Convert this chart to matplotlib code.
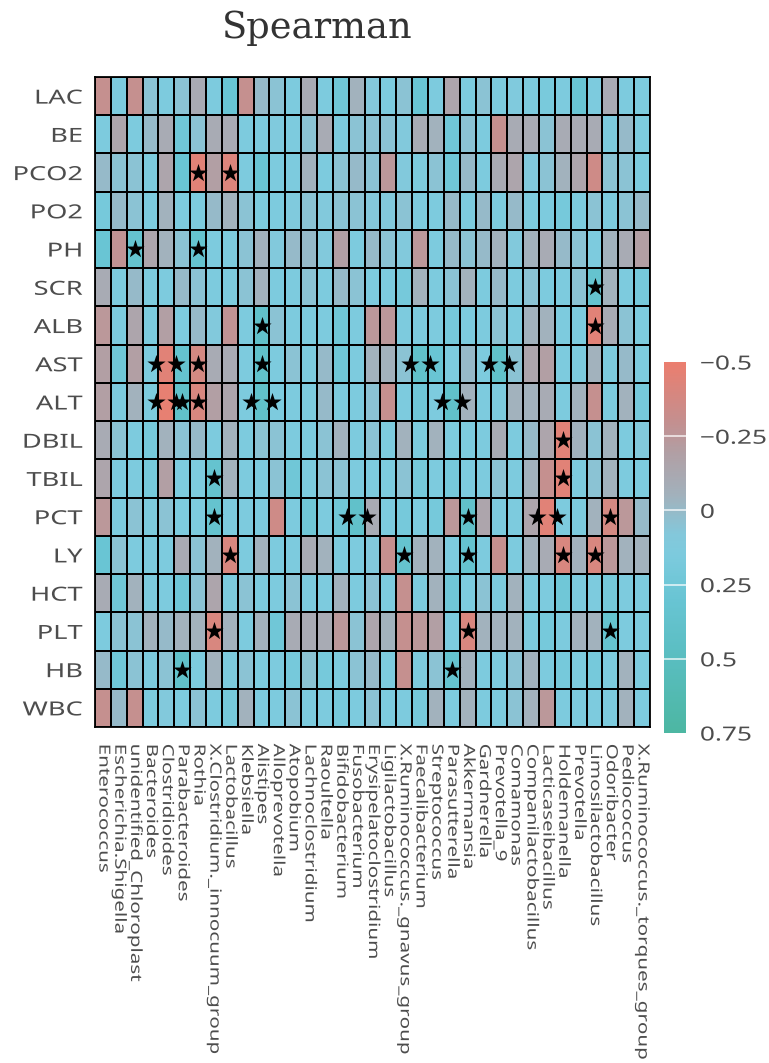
#!/usr/bin/env python3
"""Spearman correlation heatmap: clinical indices vs. genera."""
import numpy as np
import matplotlib
matplotlib.use("Agg")
import matplotlib.pyplot as plt
from matplotlib.colors import LinearSegmentedColormap, Normalize
from matplotlib.patheffects import AbstractPathEffect
from matplotlib.transforms import Affine2D

# ── data ─────────────────────────────────────────────────────────────────────
indices = ["LAC", "BE", "PCO2", "PO2", "PH", "SCR", "ALB", "AST", "ALT",
           "DBIL", "TBIL", "PCT", "LY", "HCT", "PLT", "HB", "WBC"]

genera = ["Enterococcus", "Escherichia.Shigella", "unidentified_Chloroplast",
          "Bacteroides", "Clostridioides", "Parabacteroides", "Rothia",
          "X.Clostridium._innocuum_group", "Lactobacillus", "Klebsiella",
          "Alistipes", "Alloprevotella", "Atopobium", "Lachnoclostridium",
          "Raoultella", "Bifidobacterium", "Fusobacterium",
          "Erysipelatoclostridium", "Ligilactobacillus",
          "X.Ruminococcus._gnavus_group", "Faecalibacterium", "Streptococcus",
          "Parasutterella", "Akkermansia", "Gardnerella", "Prevotella_9",
          "Comamonas", "Companilactobacillus", "Lacticaseibacillus",
          "Holdemanella", "Prevotella", "Limosilactobacillus", "Odoribacter",
          "Pediococcus", "X.Ruminococcus._torques_group"]

rho = [
    [-0.30, 0.15, -0.30, 0.05, 0.15, 0.05, -0.10, 0.15, 0.30, -0.30, 0.00, 0.05, 0.15, -0.10, 0.15, 0.25, -0.05, 0.08,
     0.15, 0.05, 0.30, 0.15, -0.15, 0.15, 0.05, 0.15, 0.12, 0.15, 0.18, 0.15, 0.30, 0.15, -0.10, 0.15, 0.15],
    [0.15, -0.15, 0.15, 0.00, -0.10, 0.25, 0.05, -0.10, -0.10, 0.15, 0.15, 0.12, 0.15, 0.05, -0.10, 0.15, 0.05, 0.05,
     0.05, 0.10, -0.10, -0.05, 0.25, 0.05, 0.15, -0.30, -0.10, -0.10, 0.05, -0.10, -0.10, -0.10, 0.15, 0.00, 0.15],
    [0.00, 0.05, 0.05, 0.15, -0.15, 0.30, -0.45, -0.20, -0.42, 0.15, 0.30, 0.15, 0.15, -0.05, 0.15, 0.05, 0.00, 0.05,
     -0.25, 0.10, 0.15, 0.05, 0.25, 0.00, 0.15, -0.10, -0.15, 0.10, 0.05, -0.05, -0.15, -0.35, 0.05, 0.05, 0.15],
    [0.20, 0.00, 0.05, 0.15, -0.05, 0.15, 0.15, 0.00, -0.05, 0.05, 0.15, 0.15, 0.12, 0.05, 0.10, 0.05, 0.05, 0.08,
     0.10, 0.05, 0.15, 0.15, 0.00, 0.15, 0.00, 0.15, 0.00, 0.15, 0.15, 0.20, 0.15, 0.05, 0.15, 0.05, 0.00],
    [0.30, -0.28, 0.35, -0.15, -0.05, 0.05, 0.35, 0.15, 0.15, 0.05, -0.05, 0.10, 0.00, 0.00, 0.10, -0.20, 0.15, 0.00,
     0.05, 0.10, -0.25, 0.15, 0.00, 0.05, 0.00, -0.05, 0.10, -0.05, -0.10, 0.00, 0.05, 0.15, -0.05, -0.10, -0.20],
    [-0.10, 0.15, 0.00, 0.15, 0.15, 0.00, 0.05, 0.15, 0.15, 0.05, -0.05, 0.15, 0.15, 0.05, 0.15, 0.00, 0.05, 0.15,
     0.15, 0.20, -0.05, 0.15, 0.05, -0.05, 0.15, 0.00, 0.15, 0.05, 0.15, 0.15, 0.05, 0.35, -0.05, 0.15, 0.20],
    [-0.25, 0.15, -0.15, 0.15, -0.20, 0.15, 0.00, 0.10, -0.28, 0.15, 0.40, 0.05, 0.15, 0.15, 0.15, 0.25, 0.15, -0.25,
     -0.25, 0.15, 0.15, 0.15, 0.20, 0.15, 0.15, 0.05, 0.15, -0.05, -0.05, 0.15, 0.15, -0.45, -0.10, 0.05, 0.15],
    [-0.20, 0.25, -0.20, 0.15, -0.45, 0.35, -0.38, -0.10, -0.10, 0.15, 0.40, 0.15, 0.05, 0.15, 0.00, 0.25, 0.15, -0.05,
     -0.05, 0.05, 0.40, 0.30, 0.15, 0.00, 0.15, 0.40, 0.05, -0.15, -0.20, 0.15, 0.15, -0.05, 0.15, 0.00, 0.15],
    [-0.20, 0.15, -0.05, 0.15, -0.48, 0.40, -0.40, -0.20, -0.15, 0.15, 0.40, 0.15, 0.15, 0.15, 0.00, 0.15, 0.15, 0.05,
     -0.30, 0.15, 0.25, 0.15, 0.40, -0.05, 0.15, 0.15, -0.05, -0.05, -0.10, 0.15, -0.05, -0.30, 0.15, -0.05, 0.20],
    [-0.10, 0.05, 0.15, 0.20, -0.05, 0.05, 0.00, 0.15, -0.05, 0.15, 0.05, 0.05, 0.15, 0.15, 0.05, -0.05, 0.15, 0.05,
     0.15, -0.05, 0.15, -0.05, 0.15, 0.15, 0.15, -0.10, 0.15, 0.00, -0.15, -0.45, -0.05, 0.05, -0.05, 0.15, 0.10],
    [-0.15, 0.15, 0.15, 0.20, -0.20, 0.15, 0.15, 0.35, -0.05, 0.15, 0.15, 0.05, 0.25, 0.15, 0.05, 0.05, 0.15, 0.15,
     0.15, 0.05, 0.20, 0.15, 0.20, 0.15, 0.15, 0.05, 0.15, -0.05, -0.30, -0.45, 0.15, 0.05, -0.05, 0.15, 0.15],
    [-0.25, 0.15, 0.05, 0.15, 0.05, 0.15, 0.15, 0.35, 0.15, 0.15, 0.15, -0.35, 0.15, 0.25, 0.15, 0.25, 0.40, -0.10,
     0.15, 0.20, 0.15, 0.20, -0.25, 0.40, -0.15, 0.15, 0.15, -0.15, -0.45, 0.15, 0.15, -0.05, -0.38, -0.25, 0.00],
    [0.30, 0.05, 0.15, 0.15, 0.15, -0.10, 0.05, -0.05, -0.40, 0.15, -0.05, 0.15, 0.15, -0.10, -0.05, 0.15, 0.15, 0.10,
     -0.30, 0.35, -0.05, -0.05, 0.15, 0.35, 0.15, -0.30, 0.15, -0.05, -0.10, -0.40, -0.05, -0.40, -0.25, -0.05, -0.05],
    [-0.10, 0.25, -0.05, 0.15, 0.15, 0.25, 0.05, -0.15, 0.15, 0.05, 0.15, 0.15, 0.05, 0.15, 0.15, -0.05, 0.15, 0.05,
     0.15, -0.30, 0.15, -0.05, 0.25, 0.15, 0.05, 0.15, -0.05, 0.15, 0.15, 0.25, 0.15, 0.15, 0.20, 0.15, 0.15],
    [0.15, 0.05, 0.05, -0.05, 0.00, -0.05, -0.05, -0.40, -0.05, 0.15, -0.05, 0.25, -0.10, -0.10, -0.10, -0.25, 0.05, -0.15,
     -0.05, -0.30, -0.25, -0.20, 0.15, -0.40, -0.05, -0.05, -0.05, 0.15, 0.20, 0.15, -0.05, -0.05, 0.35, 0.15, 0.15],
    [0.00, 0.25, 0.05, 0.15, 0.05, 0.40, 0.15, -0.05, 0.15, 0.05, 0.15, 0.15, 0.20, 0.05, 0.20, 0.15, 0.05, 0.00,
     0.15, -0.30, 0.15, 0.05, 0.35, -0.05, 0.15, 0.15, 0.05, -0.05, 0.15, 0.20, 0.15, 0.20, 0.15, -0.05, 0.15],
    [-0.30, 0.00, -0.30, 0.15, 0.10, 0.15, 0.05, 0.15, 0.20, -0.05, 0.15, 0.15, 0.05, 0.15, 0.15, 0.20, 0.15, 0.05,
     0.15, 0.15, 0.20, -0.05, 0.15, -0.05, 0.15, 0.15, 0.05, -0.05, -0.25, 0.15, 0.15, 0.15, 0.15, -0.05, 0.15],
]

# significant cells: (index, genus, number of stars)
sig = [
    ("PCO2", "Rothia", 1), ("PCO2", "Lactobacillus", 1),
    ("PH", "unidentified_Chloroplast", 1), ("PH", "Rothia", 1),
    ("SCR", "Limosilactobacillus", 1),
    ("ALB", "Alistipes", 1), ("ALB", "Limosilactobacillus", 1),
    ("AST", "Clostridioides", 2), ("AST", "Rothia", 1), ("AST", "Alistipes", 1),
    ("AST", "Faecalibacterium", 2), ("AST", "Prevotella_9", 2),
    ("ALT", "Clostridioides", 2), ("ALT", "Parabacteroides", 1), ("ALT", "Rothia", 1),
    ("ALT", "Alistipes", 2), ("ALT", "Parasutterella", 2),
    ("DBIL", "Holdemanella", 1),
    ("TBIL", "X.Clostridium._innocuum_group", 1), ("TBIL", "Holdemanella", 1),
    ("PCT", "X.Clostridium._innocuum_group", 1), ("PCT", "Fusobacterium", 2),
    ("PCT", "Akkermansia", 1), ("PCT", "Lacticaseibacillus", 2), ("PCT", "Odoribacter", 1),
    ("LY", "Lactobacillus", 1), ("LY", "X.Ruminococcus._gnavus_group", 1),
    ("LY", "Akkermansia", 1), ("LY", "Holdemanella", 1), ("LY", "Limosilactobacillus", 1),
    ("PLT", "X.Clostridium._innocuum_group", 1), ("PLT", "Akkermansia", 1),
    ("PLT", "Odoribacter", 1),
    ("HB", "Parabacteroides", 1), ("HB", "Parasutterella", 1),
]

cbar_ticks = [-0.5, -0.25, 0, 0.25, 0.5, 0.75]
cbar_labels = ["\u22120.5", "\u22120.25", "0", "0.25", "0.5", "0.75"]

# ── palette ──────────────────────────────────────────────────────────────────
vmin, vmax = -0.5, 0.75
nodes = [(-0.5, "#EB7E6F"), (-0.3, "#C49090"), (-0.2, "#B29FA4"),
         (-0.05, "#A2B2BD"), (0.08, "#84C8DB"), (0.15, "#7DCBDE"),
         (0.3, "#69C5D4"), (0.5, "#5ABEC1"), (0.75, "#4DB7A3")]
cmap = LinearSegmentedColormap.from_list(
    "spear", [((v - vmin) / (vmax - vmin), c) for v, c in nodes])
norm = Normalize(vmin, vmax)

plt.rcParams["font.family"] = ["Noto Sans", "DejaVu Sans"]
TXT = "#4D4D4D"


class Stretch(AbstractPathEffect):
    """Widen glyphs along the baseline, pinned at the start or end of the text."""

    def __init__(self, sx, anchor="start"):
        super().__init__()
        self.sx, self.anchor = sx, anchor

    def draw_path(self, renderer, gc, tpath, affine, rgbFace=None):
        x0 = tpath.get_extents().x1 if self.anchor == "end" else 0.0
        st = Affine2D().translate(-x0, 0).scale(self.sx, 1).translate(x0, 0)
        renderer.draw_path(gc, tpath, st + affine, rgbFace)


# ── figure ───────────────────────────────────────────────────────────────────
W, H = 769, 1063
fig = plt.figure(figsize=(W / 100, H / 100), dpi=100)
ax = fig.add_axes([95 / W, 1 - 727 / H, 555 / W, 650 / H])

M = np.array(rho)
ax.pcolormesh(M, cmap=cmap, norm=norm, edgecolors="black", linewidth=1.3)
ax.set_xlim(0, len(genera)); ax.set_ylim(len(indices), 0)

# one star per level, side by side inside the cell
STEP = 1.27
sx, sy = [], []
for r, g, n in sig:
    x, y = genera.index(g) + 0.5, indices.index(r) + 0.5
    for k in range(n):
        sx.append(x + (k - (n - 1) / 2) * STEP)
        sy.append(y)
ax.scatter(sx, sy, marker="*", s=190, color="black", linewidths=0, zorder=3)

ax.set_yticks(np.arange(len(indices)) + 0.5, indices)
ax.set_xticks(np.arange(len(genera)) + 0.5, genera, rotation=270)
ax.tick_params(length=0, labelcolor=TXT)
ax.tick_params(axis="y", pad=9, labelsize=14)
ax.tick_params(axis="x", pad=12, labelsize=11)
for s in ax.spines.values():
    s.set_linewidth(1.3)
for lab in ax.get_yticklabels():
    lab.set_path_effects([Stretch(1.4, "end")])
for lab in ax.get_xticklabels():
    lab.set_path_effects([Stretch(1.35)])

fig.text(317 / W, 1 - 28 / H, "Spearman", family="DejaVu Serif",
         fontsize=26.5, color="#333333", ha="center", va="center")

# ── colourbar ────────────────────────────────────────────────────────────────
cax = fig.add_axes([664 / W, 1 - 733 / H, 22 / W, 371 / H])
grad = np.linspace(vmin, vmax, 300).reshape(-1, 1)
cax.imshow(grad, cmap=cmap, norm=norm, aspect="auto",
           extent=[0, 1, vmax, vmin])
cax.set_xlim(0, 1); cax.set_ylim(vmax, vmin)
for t in cbar_ticks[1:-1]:
    cax.axhline(t, color="white", lw=1.2, alpha=0.8)
cax.set_xticks([])
cax.set_yticks(cbar_ticks, cbar_labels)
cax.yaxis.tick_right()
cax.tick_params(length=0, labelsize=14, labelcolor=TXT, pad=10)
for s in cax.spines.values():
    s.set_visible(False)
for lab in cax.get_yticklabels():
    lab.set_path_effects([Stretch(1.35)])

fig.savefig("out.png", dpi=100, facecolor="white")
